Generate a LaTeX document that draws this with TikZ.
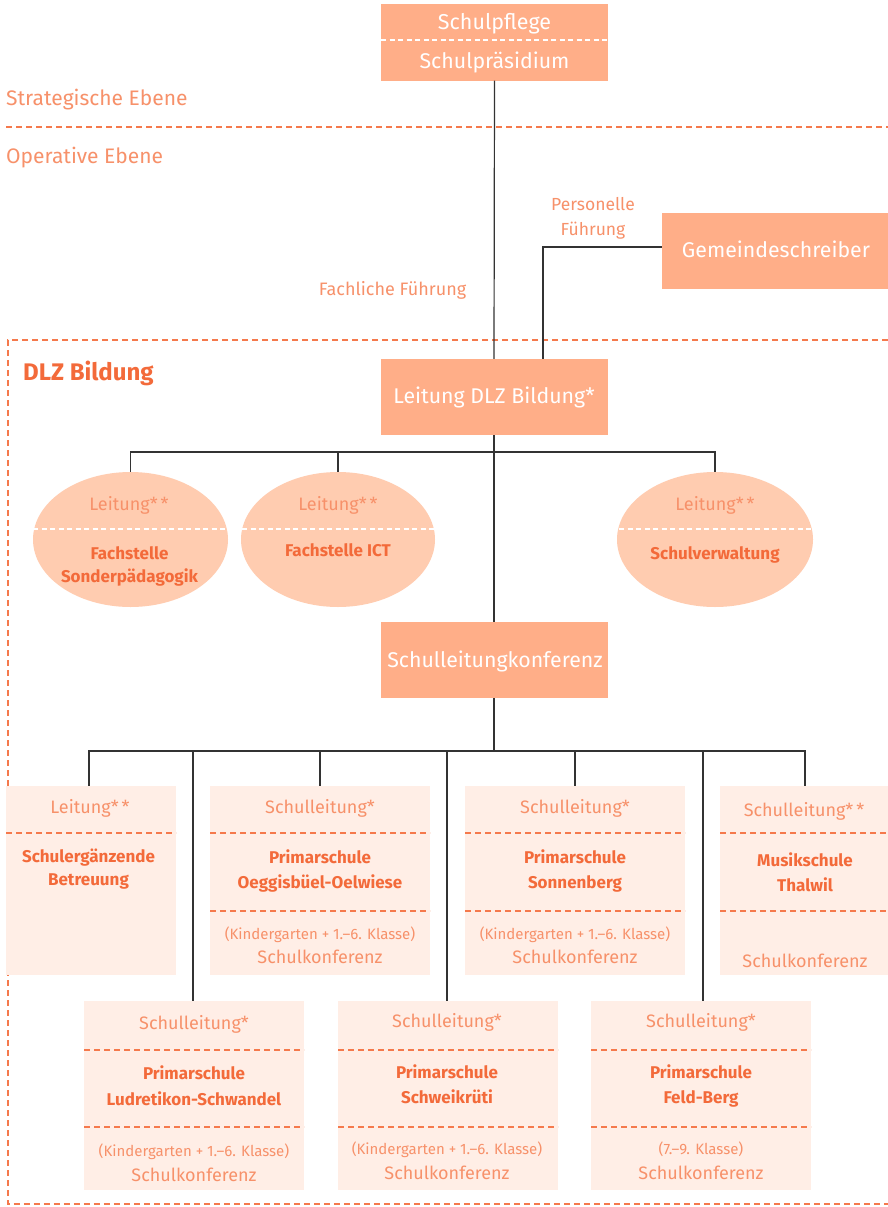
\documentclass[tikz,border=0pt]{standalone}
\usepackage{fontspec}
\setmainfont{Fira Sans}
\usetikzlibrary{shapes.geometric}
\definecolor{boxdark}{HTML}{FFAE88}
\definecolor{ellfill}{HTML}{FFCCB0}
\definecolor{palefill}{HTML}{FFEEE6}
\definecolor{dashor}{HTML}{F5794C}
\definecolor{lighttx}{HTML}{F7916A}
\definecolor{boldtx}{HTML}{F36A3A}
\definecolor{linegray}{HTML}{333333}
\newcommand\fsz[1]{\fontsize{#1pt}{#1pt}\selectfont}
\tikzset{
  conn/.style={draw=linegray, line width=1.2pt},
  darkbox/.style={rectangle, fill=boxdark, inner sep=0pt, minimum width=227pt, minimum height=76pt},
  ellbox/.style={ellipse, fill=ellfill, inner sep=0pt, minimum height=135pt},
  palebox/.style={rectangle, fill=palefill, inner sep=0pt, minimum height=189pt},
  odash/.style={draw=dashor, line width=1.3pt, dash pattern=on 6pt off 4pt},
  wdash/.style={draw=white, line width=1.2pt, dash pattern=on 5pt off 3.5pt},
  wt/.style={text=white, anchor=base, inner sep=0pt, font=\fsz{21.3}},
  lt/.style={text=lighttx, anchor=base, inner sep=0pt, font=\fsz{18}},
  bt/.style={text=boldtx, anchor=base, inner sep=0pt, font=\fsz{17}\bfseries},
  st/.style={text=lighttx, anchor=base, inner sep=0pt, font=\fsz{15}},
}
\begin{document}
\begin{tikzpicture}[x=1pt,y=-1pt]
\useasboundingbox (0,0) rectangle (888,1207);
\fill[white] (0,0) rectangle (888,1207);

% level separators
\draw[odash] (6,127) -- (888,127);
\node[lt, anchor=base west, font=\fsz{21}] (strat) at (6,105) {Strategische Ebene};
\node[lt, anchor=base west, font=\fsz{21}] (oper) at (6,163) {Operative Ebene};

% DLZ frame
\draw[odash] (888,340) -- (8,340) -- (8,1204) -- (888,1204);
\node[text=boldtx, anchor=base west, inner sep=0pt, font=\fsz{24}\bfseries] (dlz) at (23,380) {DLZ Bildung};

% top boxes
\node[darkbox] (pf) at (494.5,42.5) {};
\draw[wdash] (381,40) -- (608,40);
\node[wt, font=\fsz{21.5}] (pft) at (494.5,30) {Schulpflege};
\node[wt] (pst) at (494.5,68) {Schulpräsidium};

\node[darkbox] (gs) at (775.5,251) {};
\node[wt] (gst) at (776,257) {Gemeindeschreiber};

\node[darkbox] (ld) at (494,397) {};
\node[wt] (ldt) at (494,403) {Leitung DLZ Bildung*};

\node[lt, font=\fsz{17.5}] (pers1) at (593,210) {Personelle};
\node[lt, font=\fsz{17.5}] (pers2) at (593,235) {Führung};
\node[lt, font=\fsz{18}] (fach) at (392.5,295) {Fachliche Führung};

% ellipses
\node[ellbox, minimum width=195pt] (e1) at (130.5,539.5) {};
\node[ellbox, minimum width=194pt] (e2) at (338,539.5) {};
\node[ellbox, minimum width=196pt] (e3) at (715,539.5) {};
\draw[wdash] (33,529) -- (228,529);
\draw[wdash] (242,529) -- (434,529);
\draw[wdash] (619,529) -- (812,529);
\node[lt] (e1a) at (129,510) {Leitung*\,*};
\node[bt] (e1b) at (129.5,559) {Fachstelle};
\node[bt] (e1c) at (129.5,582) {Sonderpädagogik};
\node[lt] (e2a) at (338,510) {Leitung*\,*};
\node[bt] (e2b) at (338,556) {Fachstelle ICT};
\node[lt] (e3a) at (715,510) {Leitung*\,*};
\node[bt] (e3b) at (715,559) {Schulverwaltung};

\node[darkbox] (slk) at (494,660) {};
\node[wt] (slkt) at (495,667) {Schulleitungkonferenz};

% pale boxes top row
\node[palebox, minimum width=170pt] (A) at (91,880.5) {};
\node[palebox, minimum width=220pt] (B) at (320,880.5) {};
\node[palebox, minimum width=220pt] (C) at (575,880.5) {};
\node[palebox, minimum width=168pt] (D) at (804,880.5) {};
% bottom row
\node[palebox, minimum width=220pt] (E) at (194,1095.5) {};
\node[palebox, minimum width=220pt] (F) at (448,1095.5) {};
\node[palebox, minimum width=220pt] (G) at (701,1095.5) {};

% inner dashed lines
\draw[odash] (6,833) -- (176,833);
\draw[odash] (210,833) -- (430,833);
\draw[odash] (210,911) -- (430,911);
\draw[odash] (465,833) -- (685,833);
\draw[odash] (465,911) -- (685,911);
\draw[odash] (720,833) -- (888,833);
\draw[odash] (720,911) -- (888,911);
\draw[odash] (84,1050) -- (304,1050);
\draw[odash] (84,1127) -- (304,1127);
\draw[odash] (338,1050) -- (558,1050);
\draw[odash] (338,1127) -- (558,1127);
\draw[odash] (591,1050) -- (811,1050);
\draw[odash] (591,1127) -- (811,1127);

% texts top row
\node[lt] (Aa) at (90,813) {Leitung*\,*};
\node[bt] (Ab) at (88.5,862) {Schulergänzende};
\node[bt] (Ac) at (88.5,885) {Betreuung};

\node[lt] (Ba) at (320,813) {Schulleitung*};
\node[bt] (Bb) at (320,863) {Primarschule};
\node[bt] (Bc) at (320,888) {Oeggisbüel-Oelwiese};
\node[st] (Bd) at (320,939) {(Kindergarten + 1.–6. Klasse)};
\node[lt] (Be) at (320,963) {Schulkonferenz};

\node[lt] (Ca) at (575,813) {Schulleitung*};
\node[bt] (Cb) at (575,863) {Primarschule};
\node[bt] (Cc) at (575,888) {Sonnenberg};
\node[st] (Cd) at (575,939) {(Kindergarten + 1.–6. Klasse)};
\node[lt] (Ce) at (575,963) {Schulkonferenz};

\node[lt] (Da) at (804,816) {Schulleitung*\,*};
\node[bt] (Db) at (805,866) {Musikschule};
\node[bt] (Dc) at (805,891) {Thalwil};
\node[lt] (De) at (805,967) {Schulkonferenz};

% texts bottom row
\node[lt] (Ea) at (194,1029) {Schulleitung*};
\node[bt] (Eb) at (194,1079) {Primarschule};
\node[bt] (Ec) at (194,1105) {Ludretikon-Schwandel};
\node[st] (Ed) at (194,1156) {(Kindergarten + 1.–6. Klasse)};
\node[lt] (Ee) at (194,1181) {Schulkonferenz};

\node[lt] (Fa) at (447,1027) {Schulleitung*};
\node[bt] (Fb) at (447,1078) {Primarschule};
\node[bt] (Fc) at (447,1103) {Schweikrüti};
\node[st] (Fd) at (447,1154) {(Kindergarten + 1.–6. Klasse)};
\node[lt] (Fe) at (447,1179) {Schulkonferenz};

\node[lt] (Ga) at (701,1027) {Schulleitung*};
\node[bt] (Gb) at (701,1078) {Primarschule};
\node[bt] (Gc) at (701,1103) {Feld-Berg};
\node[st] (Gd) at (701,1154) {(7.–9. Klasse)};
\node[lt] (Ge) at (701,1179) {Schulkonferenz};

% connectors
\coordinate (bus1) at (494,452);
\coordinate (bus2) at (494,751);
\draw[conn] (pf.south) -- (ld.north);
\draw[conn] ([yshift=4pt]gs.west) -| ([xshift=49pt]ld.north);
\draw[conn] (ld.south) -- (slk.north);
\draw[conn] (e1.north) -- (e1.north |- bus1) -- (e3.north |- bus1) -- (e3.north);
\draw[conn] (e2.north) -- (e2.north |- bus1);
\draw[conn] (slk.south) -- (bus2);
\draw[conn] ([xshift=-2pt]A.north) -- ([xshift=-2pt]A.north |- bus2) -- ([xshift=1pt]D.north |- bus2) -- ([xshift=1pt]D.north);
\draw[conn] (B.north) -- (B.north |- bus2);
\draw[conn] (C.north) -- (C.north |- bus2);
\draw[conn] ([xshift=-1pt]E.north) -- ([xshift=-1pt]E.north |- bus2);
\draw[conn] ([xshift=-1pt]F.north) -- ([xshift=-1pt]F.north |- bus2);
\draw[conn] ([xshift=2pt]G.north) -- ([xshift=2pt]G.north |- bus2);
\end{tikzpicture}
\end{document}
